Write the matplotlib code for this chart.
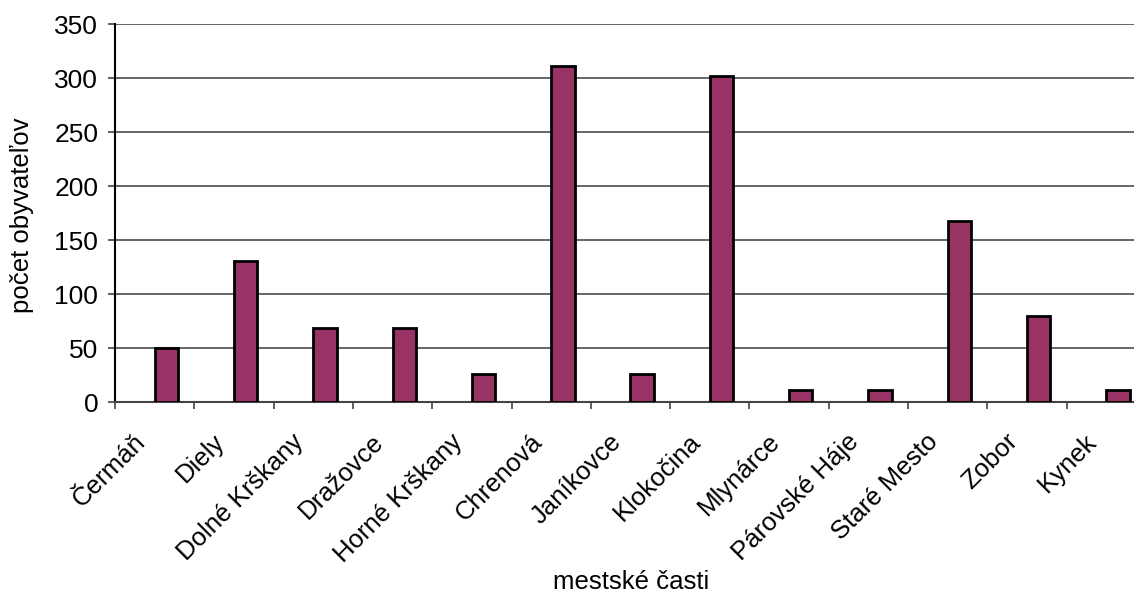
import matplotlib.pyplot as plt
import matplotlib.transforms as mtransforms
import numpy as np

plt.rcParams["font.family"] = ["Liberation Sans", "DejaVu Sans"]

districts = ["Čermáň", "Diely", "Dolné Krškany", "Dražovce", "Horné Krškany",
             "Chrenová", "Janíkovce", "Klokočina", "Mlynárce", "Párovské Háje",
             "Staré Mesto", "Zobor", "Kynek"]
population = [50, 131, 69, 69, 26, 311, 26, 302, 11, 11, 168, 80, 11]
y_ticks = [0, 50, 100, 150, 200, 250, 300, 350]

figure = plt.figure(figsize=(11.34, 5.92), dpi=100)
axis = figure.add_axes([115 / 1134, 190 / 592, 1031 / 1134, 377.7 / 592])

positions = np.arange(len(districts))
axis.bar(positions, population, width=0.294, align="edge",
         color="#993366", edgecolor="black", linewidth=2, zorder=3)

axis.set_xlim(-0.5, len(districts) - 0.5)
axis.set_ylim(0, 350)
axis.set_yticks(y_ticks)
axis.yaxis.grid(True, color="#4d4d4d", linewidth=1.2, zorder=0)

# boundary tick marks, labels at the category centres
axis.set_xticks(np.arange(len(districts) + 1) - 0.5)
axis.set_xticklabels([])
axis.set_xticks(positions, minor=True)
axis.set_xticklabels(districts, minor=True, rotation=45, ha="right", va="center",
                     rotation_mode="anchor", fontsize=18.5)
axis.tick_params(axis="x", which="minor", length=0, pad=28)
axis.tick_params(axis="x", which="major", length=5, width=1.2, color="#444444")
axis.tick_params(axis="y", length=5, width=1.2, color="#444444", labelsize=19, pad=7)

shift = mtransforms.ScaledTranslation(-0.13, 0.03, figure.dpi_scale_trans)
for label in axis.get_xticklabels(minor=True):
    label.set_transform(label.get_transform() + shift)

for side in ("top", "right"):
    axis.spines[side].set_visible(False)
axis.spines["left"].set_linewidth(1.5)
axis.spines["bottom"].set_linewidth(1.5)
axis.spines["bottom"].set_color("#444444")

figure.text(22 / 1134, 1 - 215 / 592, "počet obyvateľov", fontsize=18.5,
            rotation=90, ha="center", va="center")
figure.text(631 / 1134, 1 - 589 / 592, "mestské časti", fontsize=18.5,
            ha="center", va="baseline")

figure.savefig("out.png", dpi=100)
